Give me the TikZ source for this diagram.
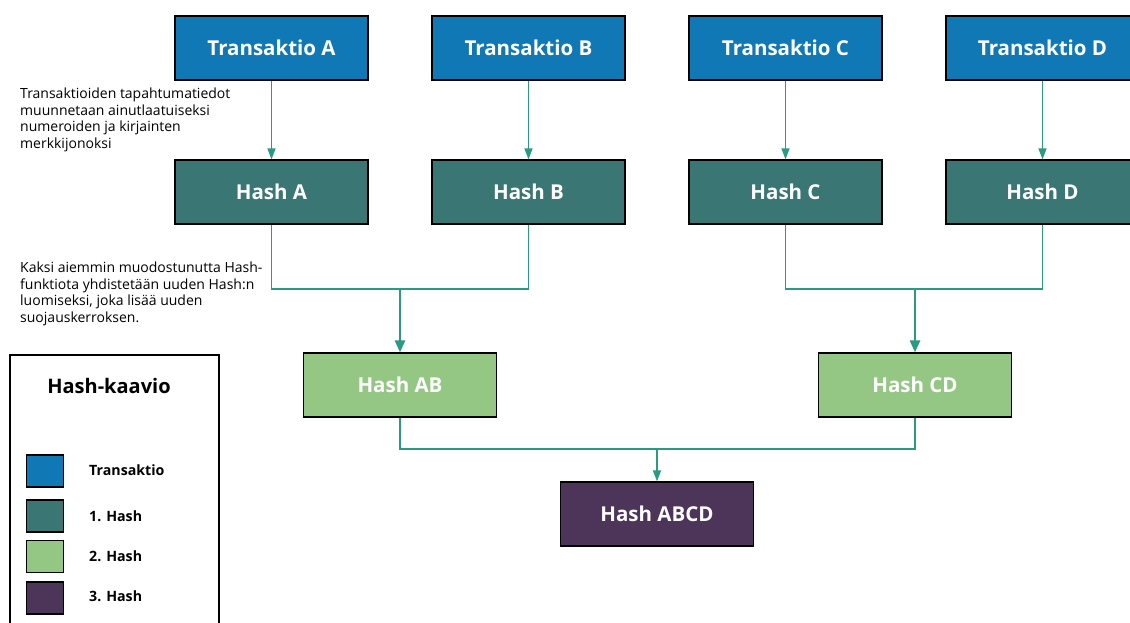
\documentclass[tikz,border=0pt]{standalone}
\usepackage{fontspec}
\setmainfont{Open Sans}
\usetikzlibrary{arrows.meta}
\definecolor{tranBlue}{HTML}{0F78B5}
\definecolor{hashTeal}{HTML}{3A7673}
\definecolor{hashGreen}{HTML}{94C783}
\definecolor{hashPurple}{HTML}{4D3459}
\definecolor{lineTeal}{HTML}{2A9A80}
\begin{document}
\begin{tikzpicture}[x=1pt,y=-1pt,
  box/.style={shape=rectangle,draw=black,line width=1.2pt,minimum width=193pt,minimum height=64pt,text=white,font=\fontsize{20.5}{24}\selectfont\bfseries},
  boxT/.style={box,fill=tranBlue},
  boxH/.style={box,fill=hashTeal},
  boxG/.style={box,fill=hashGreen},
  boxP/.style={box,fill=hashPurple},
  link/.style={draw=lineTeal,line width=1.4pt},
  arr/.style={link,-{Triangle[length=11pt,width=8pt]}},
  arrB/.style={link,line width=2.6pt,-{Triangle[length=12pt,width=10pt]}},
  note/.style={anchor=north west,align=left,inner sep=0pt,font=\fontsize{14}{16.5}\selectfont},
  key/.style={draw=black,line width=1.2pt,minimum width=37pt,minimum height=32pt,inner sep=0pt},
  keytext/.style={anchor=west,inner sep=0pt,font=\fontsize{14.2}{16}\selectfont\bfseries}]
\def\xa{271.5};
\def\xb{528.5};
\def\xc{785.5};
\def\xd{1042.5};
\def\ya{48};
\def\yb{192};
\def\yc{385};
\def\yd{514};

\useasboundingbox (0,0) rectangle (1130,623);

% transaktiot
\node[boxT] (TA) at (\xa,\ya) {Transaktio A};
\node[boxT] (TB) at (\xb,\ya) {Transaktio B};
\node[boxT] (TC) at (\xc,\ya) {Transaktio C};
\node[boxT] (TD) at (\xd,\ya) {Transaktio D};

% 1. hash
\node[boxH] (HA) at (\xa,\yb) {Hash A};
\node[boxH] (HB) at (\xb,\yb) {Hash B};
\node[boxH] (HC) at (\xc,\yb) {Hash C};
\node[boxH] (HD) at (\xd,\yb) {Hash D};
\draw[arr] (TA.south) -- (HA.north);
\draw[arr] (TB.south) -- (HB.north);
\draw[arr] (TC.south) -- (HC.north);
\draw[arr] (TD.south) -- (HD.north);

% 2. hash
\node[boxG] (HAB) at (0.5*\xa+0.5*\xb,\yc) {Hash AB};
\node[boxG] (HCD) at (0.5*\xc+0.5*\xd+1,\yc) {Hash CD};
\coordinate (mAB) at (0.5*\xa+0.5*\xb,289);
\coordinate (mCD) at (0.5*\xc+0.5*\xd+1,289);
\draw[link] (HA.south) |- (mAB) -| (HB.south);
\draw[link] (HC.south) |- (mCD) -| (HD.south);
\draw[arrB] (mAB) -- (HAB.north);
\draw[arrB] (mCD) -- (HCD.north);

% 3. hash
\node[boxP] (HABCD) at (657,\yd) {Hash ABCD};
\coordinate (mABCD) at (657,449);
\draw[link] (HAB.south) |- (mABCD) -| (HCD.south);
\draw[arr] (mABCD) -- (HABCD.north);

% selitteet
\node[note] (n1) at (20,88) {Transaktioiden tapahtumatiedot\\muunnetaan ainutlaatuiseksi\\numeroiden ja kirjainten\\merkkijonoksi};
\node[note] (n2) at (20,262) {Kaksi aiemmin muodostunutta Hash-\\funktiota yhdistetään uuden Hash:n\\luomiseksi, joka lisää uuden\\suojauskerroksen.};

% legenda
\draw[line width=1.3pt] (10,355) rectangle (219,640);
\node[font=\fontsize{20}{24}\selectfont\bfseries] (kt) at (109,386) {Hash-kaavio};
\node[key,fill=tranBlue] (k1) at (45,471) {};
\node[key,fill=hashTeal] (k2) at (45,516) {};
\node[key,fill=hashGreen] (k3) at (45,556.5) {};
\node[key,fill=hashPurple] (k4) at (45,598) {};
\node[keytext] (l1) at (89,470) {Transaktio};
\node[keytext] (l2) at (89,516) {1. Hash};
\node[keytext] (l3) at (89,556) {2. Hash};
\node[keytext] (l4) at (89,596) {3. Hash};
\end{tikzpicture}
\end{document}
